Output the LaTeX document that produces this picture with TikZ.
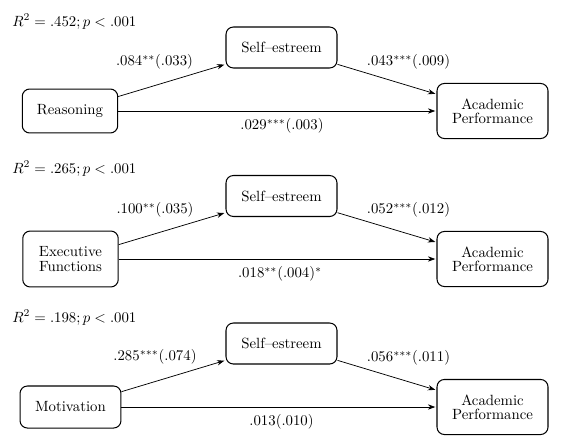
\documentclass[tikz,border=0pt]{standalone}
\usetikzlibrary{arrows.meta}
\begin{document}
\begin{tikzpicture}[x=0.6757pt,y=-0.6757pt,
  box/.style={draw,line width=0.7pt,rounded corners=5pt,align=center,inner sep=2pt},
  leftbox/.style={box,minimum width=64.5pt,minimum height=29.7pt},
  sebox/.style={box,minimum width=75pt,minimum height=27.7pt},
  apbox/.style={box,minimum width=75pt,minimum height=37.2pt},
  arr/.style={-{Stealth[length=5pt,width=3.6pt]},line width=0.5pt,shorten >=0.8pt},
  lab/.style={inner sep=0pt},
  rsq/.style={inner sep=0pt,anchor=base west}]
\useasboundingbox (0,0) rectangle (567,446);
% Panel 1
\node[rsq] (r1) at (12,26) {$R^2=.452; p<.001$};
\node[leftbox] (x1) at (70,111) {Reasoning};
\node[sebox] (s1) at (281.5,47.5) {Self--estreem};
\node[apbox] (y1) at (492.5,111) {Academic\\[-2.5pt]Performance};
\draw[arr] (x1) -- (s1);
\draw[arr] (s1) -- (y1);
\draw[arr] (x1) -- (y1);
\node[lab] (a1) at (154.5,62) {$.084^{**}(.033)$};
\node[lab] (b1) at (408.5,62) {$.043^{***}(.009)$};
\node[lab] (c1) at (282,126) {$.029^{***}(.003)$};
% Panel 2
\node[rsq] (r2) at (12,173) {$R^2=.265; p<.001$};
\node[leftbox,minimum height=37.8pt] (x2) at (70.5,259) {Executive\\[-2pt]Functions};
\node[sebox] (s2) at (281.5,196) {Self--estreem};
\node[apbox] (y2) at (492.5,259) {Academic\\[-2.5pt]Performance};
\draw[arr] (x2) -- (s2);
\draw[arr] (s2) -- (y2);
\draw[arr] (x2) -- (y2);
\node[lab] (a2) at (155,210) {$.100^{**}(.035)$};
\node[lab] (b2) at (408.5,210) {$.052^{***}(.012)$};
\node[lab] (c2) at (280,274) {$.018^{**}(.004)^{*}$};
% Panel 3
\node[rsq] (r3) at (12,322) {$R^2=.198; p<.001$};
\node[leftbox,minimum width=68.2pt,minimum height=28.4pt] (x3) at (70.5,407) {Motivation};
\node[sebox] (s3) at (281.5,343.5) {Self--estreem};
\node[apbox] (y3) at (492.5,407) {Academic\\[-2.5pt]Performance};
\draw[arr] (x3) -- (s3);
\draw[arr] (s3) -- (y3);
\draw[arr] (x3) -- (y3);
\node[lab] (a3) at (155,357) {$.285^{***}(.074)$};
\node[lab] (b3) at (408.5,358) {$.056^{***}(.011)$};
\node[lab] (c3) at (281.5,422) {$.013(.010)$};
\end{tikzpicture}
\end{document}
